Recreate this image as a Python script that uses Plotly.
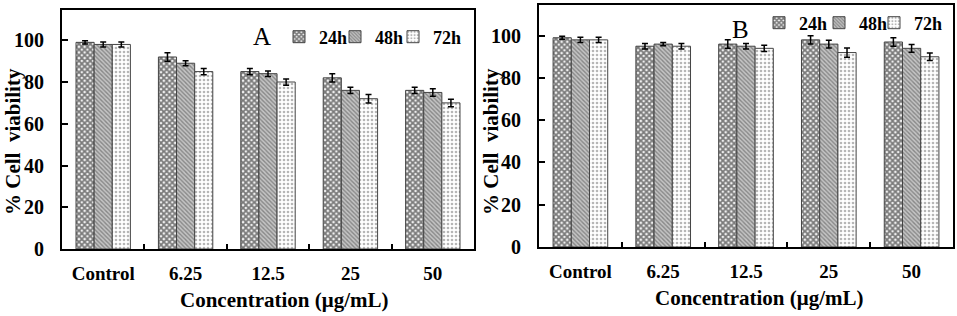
import plotly.graph_objects as go

categories = ["Control", "6.25", "12.5", "25", "50"]
series_names = ["24h", "48h", "72h"]

a_24h = [99, 92, 85, 82, 76]
a_48h = [98, 89, 84, 76, 75]
a_72h = [98, 85, 80, 72, 70]
a_24h_err = [0.8, 2.0, 1.5, 2.0, 1.5]
a_48h_err = [1.2, 1.2, 1.3, 1.5, 1.8]
a_72h_err = [1.2, 1.5, 1.5, 2.0, 1.8]

b_24h = [99, 95, 96, 98, 97]
b_48h = [98, 96, 95, 96, 94]
b_72h = [98, 95, 94, 92, 90]
b_24h_err = [0.7, 1.3, 2.0, 2.0, 2.0]
b_48h_err = [1.2, 0.8, 1.3, 1.8, 1.8]
b_72h_err = [1.2, 1.3, 1.5, 2.2, 1.8]

y_ticks = [0, 20, 40, 60, 80, 100]

W, H = 957, 316
SERIF = "'Liberation Serif', 'Times New Roman', Times, serif"

patterns = [
    dict(shape="x", fgcolor="#000000", bgcolor="#f4f4f4", size=4, solidity=0.7),
    dict(shape="\\", fgcolor="#4a4a4a", bgcolor="#c4c4c4", size=3, solidity=0.45),
    dict(shape=".", fgcolor="#6e6e6e", bgcolor="white", size=4, solidity=0.35),
]

fig = go.Figure()

panels = [
    ("x", "y", ["legend", "legend2", "legend3"], [a_24h, a_48h, a_72h],
     [a_24h_err, a_48h_err, a_72h_err]),
    ("x2", "y2", ["legend4", "legend5", "legend6"], [b_24h, b_48h, b_72h],
     [b_24h_err, b_48h_err, b_72h_err]),
]

for xa, ya, lgs, vals, errs in panels:
    for i, name in enumerate(series_names):
        fig.add_trace(go.Bar(
            x=categories, y=vals[i], name=name, xaxis=xa, yaxis=ya, legend=lgs[i],
            showlegend=True,
            marker=dict(color="white", pattern=patterns[i],
                        line=dict(color="#444444", width=1)),
            error_y=dict(type="data", array=errs[i], color="black",
                         thickness=1.5, width=3),
        ))


def px_x(p):
    return p / W


def px_y(p):
    return 1 - p / H


axis_common = dict(showline=True, linecolor="black", linewidth=2, mirror=True,
                   showgrid=False, zeroline=False, automargin=False)
xfont = dict(family=SERIF, size=19, color="black", weight="bold")
yfont = dict(family=SERIF, size=20, color="black", weight="bold")
legfont = dict(family=SERIF, size=18, color="black", weight="bold")


def leg(xpx, ypx):
    return dict(orientation="h", x=px_x(xpx), y=px_y(ypx), xanchor="left",
                yanchor="middle", bgcolor="rgba(0,0,0,0)", font=legfont,
                itemwidth=30, itemclick=False, itemdoubleclick=False)


fig.update_layout(
    width=W, height=H,
    showlegend=True,
    margin=dict(l=0, r=0, t=0, b=0, autoexpand=False),
    plot_bgcolor="white", paper_bgcolor="white",
    font=dict(family=SERIF),
    barmode="group", bargap=0.34, bargroupgap=0,
    xaxis=dict(domain=[px_x(62), px_x(474)], anchor="y",
               ticks="inside", tickson="boundaries", ticklen=5, tickwidth=1.5,
               tickcolor="black", tickfont=xfont, ticklabelstandoff=6,
               **axis_common),
    yaxis=dict(domain=[px_y(249), px_y(10)], anchor="x", range=[0, 114.5],
               tickvals=y_ticks, ticks="inside", ticklen=6, tickwidth=1.5,
               tickcolor="black", tickfont=yfont, ticklabelstandoff=12,
               **axis_common),
    xaxis2=dict(domain=[px_x(539), px_x(953)], anchor="y2",
                ticks="inside", tickson="boundaries", ticklen=5, tickwidth=1.5,
                tickcolor="black", tickfont=xfont, ticklabelstandoff=6,
                **axis_common),
    yaxis2=dict(domain=[px_y(247), px_y(5)], anchor="x2", range=[0, 114.5],
                tickvals=y_ticks, ticks="inside", ticklen=6, tickwidth=1.5,
                tickcolor="black", tickfont=yfont, ticklabelstandoff=12,
                **axis_common),
    legend=leg(279, 37),
    legend2=leg(335, 37),
    legend3=leg(393, 37),
    legend4=leg(759, 23),
    legend5=leg(819, 23),
    legend6=leg(874, 23),
)

ann_font = dict(family=SERIF, size=21, color="black", weight="bold")
annotations = [
    dict(text="A", x=px_x(262), y=px_y(37),
         font=dict(family=SERIF, size=25, color="black")),
    dict(text="B", x=px_x(740), y=px_y(29),
         font=dict(family=SERIF, size=25, color="black")),
    dict(text="Concentration (μg/mL)", x=px_x(284), y=px_y(300), font=ann_font),
    dict(text="Concentration (μg/mL)", x=px_x(759), y=px_y(298), font=ann_font),
    dict(text="% Cell  viability", x=px_x(13), y=px_y(142), textangle=-90, font=ann_font),
    dict(text="% Cell  viability", x=px_x(491), y=px_y(142), textangle=-90, font=ann_font),
]
for a in annotations:
    fig.add_annotation(xref="paper", yref="paper", showarrow=False,
                       xanchor="center", yanchor="middle", **a)

fig.write_html("out.html", config={"displayModeBar": False},
               post_script="document.body.style.margin='0';document.body.style.padding='0';")
